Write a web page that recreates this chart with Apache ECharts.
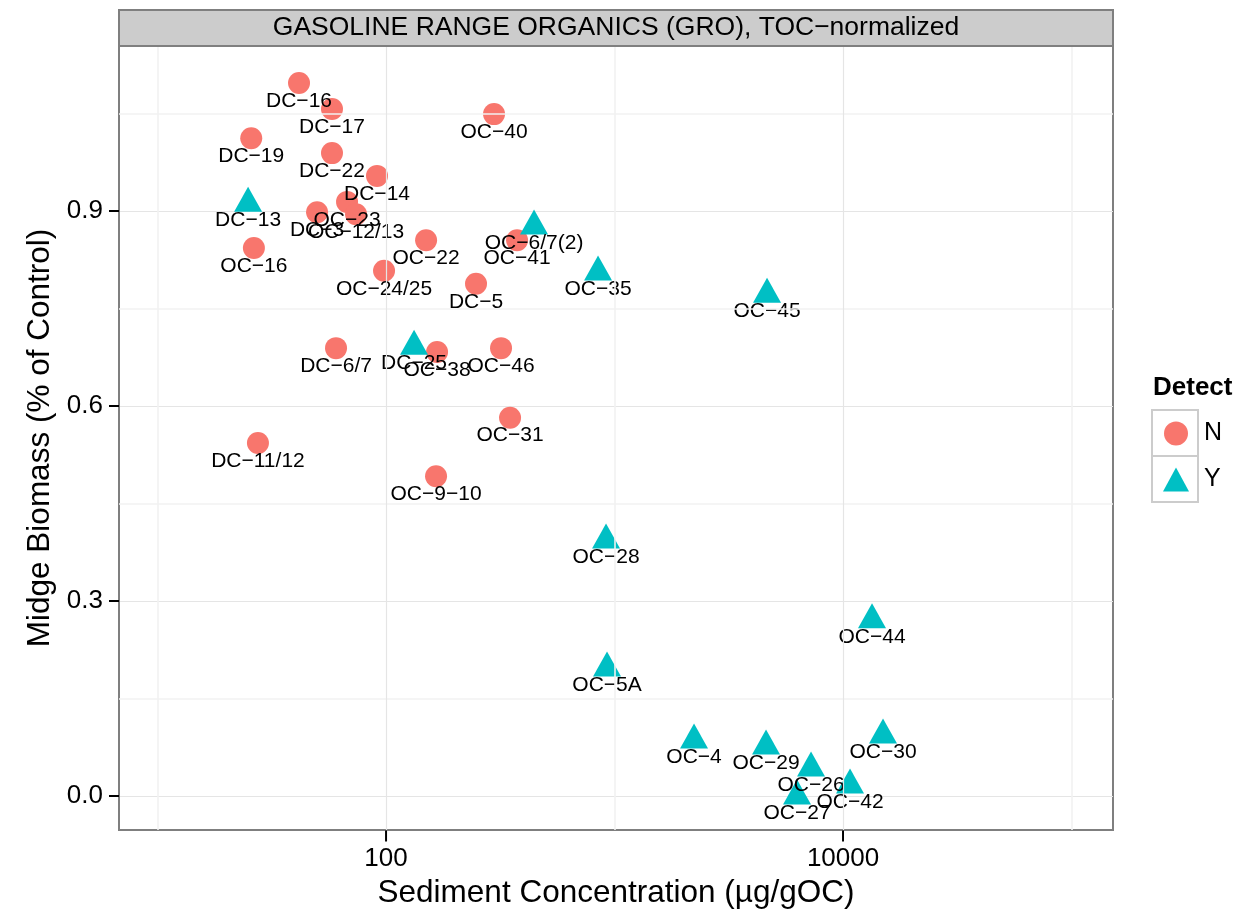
<!DOCTYPE html>
<html>
<head>
<meta charset="utf-8">
<script src="https://cdn.jsdelivr.net/npm/echarts@6/dist/echarts.min.js"></script>
<style>
  html, body { margin: 0; padding: 0; background: #ffffff; }
  #chart { width: 1259px; height: 911px; }
</style>
</head>
<body>
<div id="chart"></div>
<script>
// ---- Data ----
const nNames = ['DC−16','DC−17','DC−19','DC−22','DC−14','DC−3','OC−23','OC−12/13','OC−16','OC−22','OC−24/25','DC−5','OC−40','OC−41','DC−6/7','OC−38','OC−46','OC−31','DC−11/12','OC−9−10'];
const nX = [41.6, 58.0, 25.7, 58.0, 91.3, 49.9, 67.5, 73.9, 26.4, 149.7, 98.0, 247.6, 296.9, 374.4, 60.4, 167.2, 318.6, 348.9, 27.5, 165.5];
const nY = [1.097, 1.057, 1.012, 0.989, 0.954, 0.898, 0.914, 0.895, 0.843, 0.855, 0.808, 0.788, 1.049, 0.855, 0.689, 0.683, 0.689, 0.582, 0.543, 0.492];

const yNames = ['DC−13','OC−6/7(2)','OC−35','OC−45','DC−25','OC−28','OC−44','OC−5A','OC−4','OC−29','OC−30','OC−26','OC−42','OC−27'];
const yX = [24.9, 444.4, 847, 4650, 132.6, 918, 13393, 927, 2228, 4603, 14962, 7244, 10730, 6290];
const yY = [0.912, 0.877, 0.806, 0.772, 0.692, 0.394, 0.271, 0.197, 0.086, 0.077, 0.094, 0.043, 0.017, 0.0];

const xTicks = [100, 10000];
const xMinorGrid = [10, 1000, 100000];
const yTicks = [0, 0.3, 0.6, 0.9];
const yMinorGrid = [0.15, 0.45, 0.75, 1.05];

const stripTitle = 'GASOLINE RANGE ORGANICS (GRO), TOC−normalized';
const xTitle = 'Sediment Concentration (µg/gOC)';
const yTitle = 'Midge Biomass (% of Control)';
const legendTitle = 'Detect';

// ---- Build ----
const FONT = 'Liberation Sans, Arial, Helvetica, sans-serif';
const RED = '#F8766D', TEAL = '#00BFC4';
const MAJOR = '#e5e5e5', MINOR = '#f2f2f2';
const X_MIN = 6.78, X_MAX = 151900, Y_MIN = -0.0523, Y_MAX = 1.1538;

function pts(xs, ys, names) {
  return xs.map((x, i) => ({ value: [x, ys[i]], name: names[i] }));
}

const chart = echarts.init(document.getElementById('chart'), null, { renderer: 'canvas' });

const option = {
  animation: false,
  backgroundColor: '#ffffff',
  grid: {
    left: 119, right: 146, top: 46, bottom: 81,
    containLabel: false, outerBoundsMode: 'none',
    show: true, borderColor: '#7f7f7f', borderWidth: 2, backgroundColor: '#ffffff', z: 0
  },
  xAxis: {
    type: 'log', logBase: 10, min: X_MIN, max: X_MAX,
    name: xTitle, nameLocation: 'middle', nameGap: 43,
    nameTextStyle: { fontSize: 31.5, color: '#000', fontFamily: FONT },
    axisLine: { show: true, onZero: false, lineStyle: { color: '#7f7f7f', width: 2 } },
    axisTick: { show: false },
    axisLabel: { customValues: xTicks, fontSize: 26, color: '#000', fontFamily: FONT, margin: 16,
      formatter: v => String(Math.round(v)) },
    splitLine: { show: false }
  },
  yAxis: {
    type: 'value', min: Y_MIN, max: Y_MAX,
    name: yTitle, nameLocation: 'middle', nameGap: 62,
    nameTextStyle: { fontSize: 31.5, color: '#000', fontFamily: FONT },
    axisLine: { show: true, onZero: false, lineStyle: { color: '#7f7f7f', width: 2 } },
    axisTick: { show: true, customValues: yTicks, length: 10, lineStyle: { color: '#000', width: 2 } },
    axisLabel: { customValues: yTicks, fontSize: 26, color: '#000', fontFamily: FONT, margin: 16,
      formatter: v => Number(v).toFixed(1) },
    splitLine: { show: true, lineStyle: { color: MAJOR, width: 1.2 } }
  },
  legend: {
    orient: 'vertical', left: 1158, top: 416, itemGap: 21,
    itemWidth: 26, itemHeight: 24, selectedMode: false,
    textStyle: { fontSize: 25, color: '#000', fontFamily: FONT, padding: [0, 0, 0, 10] },
    data: [{ name: 'N', icon: 'circle' }, { name: 'Y', icon: 'triangle' }]
  },
  graphic: [
    { type: 'rect', z: 10, shape: { x: 119, y: 10, width: 994, height: 36 },
      style: { fill: '#cccccc', stroke: '#7f7f7f', lineWidth: 2 } },
    { type: 'text', z: 11, x: 616, y: 28,
      style: { text: stripTitle, fontSize: 26.5, fill: '#000', fontFamily: FONT, align: 'center', verticalAlign: 'middle' } },
    { type: 'text', z: 11, x: 1153, y: 388,
      style: { text: legendTitle, fontSize: 26, fontWeight: 'bold', fill: '#000', fontFamily: FONT, align: 'left', verticalAlign: 'middle' } },
    { type: 'rect', z: 0, shape: { x: 1152, y: 410, width: 46, height: 46 },
      style: { fill: '#ffffff', stroke: '#cccccc', lineWidth: 2 } },
    { type: 'rect', z: 0, shape: { x: 1152, y: 456, width: 46, height: 46 },
      style: { fill: '#ffffff', stroke: '#cccccc', lineWidth: 2 } }
  ],
  series: [
    {
      type: 'line', data: [], silent: true, z: 1,
      markLine: {
        silent: true, symbol: 'none', label: { show: false },
        emphasis: { disabled: true },
        data: xMinorGrid.map(v => ({ xAxis: v, lineStyle: { color: MINOR, width: 1.6, type: 'solid' } }))
          .concat(yMinorGrid.map(v => ({ yAxis: v, lineStyle: { color: MINOR, width: 1.6, type: 'solid' } })))
          .concat(xTicks.map(v => ({ xAxis: v, lineStyle: { color: MAJOR, width: 1.2, type: 'solid' } })))
      }
    },
    {
      // x-axis tick marks just below the panel, placed through the axis scales
      type: 'scatter', silent: true, z: 5, clip: false,
      symbol: 'rect', symbolSize: [2, 11], symbolOffset: [0, 6],
      itemStyle: { color: '#000', opacity: 1 },
      label: { show: false },
      emphasis: { disabled: true },
      data: xTicks.map(v => [v, Y_MIN])
    },
    {
      name: 'N', type: 'scatter', z: 3,
      symbol: 'circle', symbolSize: 22,
      itemStyle: { color: RED, opacity: 1 },
      data: pts(nX, nY, nNames),
      label: { show: true, position: 'inside', offset: [0, 18], formatter: p => p.name,
        fontSize: 21, color: '#000', fontFamily: FONT },
      emphasis: { disabled: true }
    },
    {
      name: 'Y', type: 'scatter', z: 3,
      symbol: 'triangle', symbolSize: [28, 25], symbolOffset: [0, -4],
      itemStyle: { color: TEAL, opacity: 1 },
      data: pts(yX, yY, yNames),
      label: { show: true, position: 'inside', offset: [0, 21], formatter: p => p.name,
        fontSize: 21, color: '#000', fontFamily: FONT },
      emphasis: { disabled: true }
    }
  ]
};

chart.setOption(option);
</script>
</body>
</html>
